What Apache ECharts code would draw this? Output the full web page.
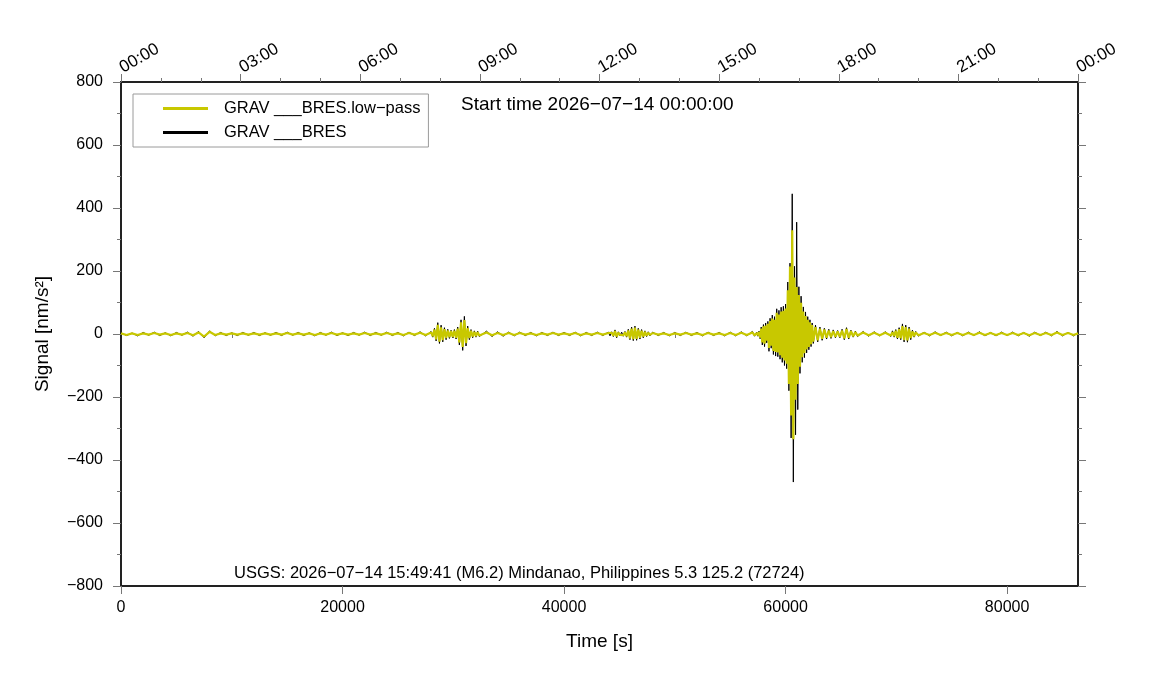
<!DOCTYPE html>
<html>
<head>
<meta charset="utf-8">
<script src="https://cdn.jsdelivr.net/npm/echarts@6/dist/echarts.min.js"></script>
<style>
html,body{margin:0;padding:0;background:#fff;}
#chart{width:1151px;height:700px;}
</style>
</head>
<body>
<div id="chart"></div>
<script>
// ---- tick labels / axis values ----
const bottomTickValues = [0, 20000, 40000, 60000, 80000];
const bottomMinorTickValues = [10000, 30000, 50000, 70000];
const topTickLabels = ['00:00','03:00','06:00','09:00','12:00','15:00','18:00','21:00','00:00'];
const seriesNames = ['GRAV ___BRES.low\u2212pass', 'GRAV ___BRES'];
const startTimeText = 'Start time 2026\u221207\u221214 00:00:00';
const eventText = 'USGS: 2026\u221207\u221214 15:49:41 (M6.2) Mindanao, Philippines 5.3 125.2 (72724)';

// ---- sample times [s] (envelope peaks) ----
const times = [
  // quiet
  0,500,1000,1500,2000,2500,3000,3500,4000,4500,5000,5500,6000,6500,7000,7500,8000,8500,9000,9500,
  10000,10500,11000,11500,12000,12500,13000,13500,14000,14500,15000,15500,16000,16500,17000,17500,
  18000,18500,19000,19500,20000,20500,21000,21500,22000,22500,23000,23500,24000,24500,25000,25500,
  26000,26500,27000,27500,
  // event ~08:00
  28000,28150,28300,28450,28600,28750,28900,29050,29200,29350,29500,29650,29800,29950,30100,30250,
  30400,30550,30700,30850,31000,31150,31300,31450,31600,31750,31900,32050,32200,32350,
  // quiet
  33000,33500,34000,34500,35000,35500,36000,36500,37000,37500,38000,38500,39000,39500,40000,40500,
  41000,41500,42000,42500,43000,43500,
  // event ~13:00
  44000,44150,44300,44450,44600,44750,44900,45050,45200,45350,45500,45650,45800,45950,46100,46250,
  46400,46550,46700,46850,47000,47150,47300,47450,47600,47750,
  // quiet
  48000,48500,49000,49500,50000,50500,51000,51500,52000,52500,53000,53500,54000,54500,55000,55500,
  56000,56500,57000,
  // main event (Mindanao M6.2)
  57200,
  57400,57500,57600,57700,57800,57900,
  58000,58100,58200,58300,58400,58500,58600,58700,58800,58900,
  59000,59100,59200,59300,59400,59500,59600,59700,59800,59900,
  60000,60100,60200,60300,60400,60500,60600,60700,60800,60900,
  61000,61100,61200,61300,61400,61500,61600,61700,61800,61900,
  62000,62100,62200,62300,62400,62500,
  62700,62900,63100,63300,63500,63700,63900,64100,64300,64500,64700,64900,65100,65300,65500,65700,
  65900,66100,66300,66500,
  // quiet
  67000,67500,68000,68500,69000,69500,
  // event ~19:40
  69650,69800,69950,70100,70250,70400,70550,70700,70850,71000,71150,71300,71450,71600,71750,
  // quiet
  72000,72500,73000,73500,74000,74500,75000,75500,76000,76500,77000,77500,78000,78500,79000,79500,
  80000,80500,81000,81500,82000,82500,83000,83500,84000,84500,85000,85500,86000,86400
];

// ---- raw signal GRAV ___BRES [nm/s^2] ----
const rawSignal = [
  4,-5,3,-6,5,-4,6,-5,4,-6,5,-4,6,-7,8,-12,10,-6,5,-5,
  4,-5,5,-4,5,-5,4,-4,5,-5,6,-4,5,-5,4,-6,
  5,-4,6,-5,4,-5,5,-4,6,-5,5,-4,6,-5,5,-6,
  6,-5,7,-6,
  8,-10,18,-22,36,-30,28,-25,20,-18,15,-14,12,-12,14,-16,
  22,-35,45,-52,56,-38,25,-18,14,-12,10,-10,9,-8,
  9,-8,7,-7,6,-6,6,-5,5,-6,5,-5,6,-5,5,-5,
  6,-6,5,-5,6,-5,
  6,-6,7,-8,13,-12,7,-6,6,-7,8,-10,15,-18,22,-21,
  25,-20,18,-16,14,-12,10,-8,7,-6,
  6,-5,5,-6,5,-5,6,-5,5,-6,6,-5,5,-6,6,-6,
  7,-6,8,
  -7,
  6,-7,9,-15,22,-35,
  30,-40,35,-28,40,-55,50,-45,60,-65,
  55,-70,80,-72,75,-80,85,-90,88,-100,
  95,-110,165,-180,225,-330,445,-470,215,-320,
  355,-240,150,-125,120,-90,86,-75,70,-60,
  55,-50,45,-40,35,-30,
  28,-25,22,-20,18,-16,15,-14,13,-12,11,-12,15,-18,20,-16,
  12,-10,9,-8,
  8,-7,7,-6,7,-8,
  10,-10,14,-16,20,-18,32,-25,28,-26,22,-18,12,-10,8,
  -7,6,-6,7,-5,6,-6,5,-6,6,-5,7,-6,5,-6,6,
  -5,6,-6,5,-7,6,-5,6,-6,8,-6,5,-6,4
];

// ---- low-pass signal GRAV ___BRES.low-pass [nm/s^2] ----
const lowPassSignal = [
  2,-3,2,-3,2,-2,3,-2,2,-3,2,-2,3,-4,5,-8,7,-3,2,-2,
  2,-2,2,-2,2,-2,2,-2,2,-2,3,-2,2,-2,2,-3,
  2,-2,3,-2,2,-2,2,-2,3,-2,2,-2,3,-2,2,-3,
  3,-2,4,-3,
  5,-7,14,-17,29,-24,21,-19,15,-13,11,-10,9,-9,10,-12,
  17,-27,37,-41,44,-29,19,-13,10,-8,7,-7,6,-5,
  5,-4,3,-3,3,-3,3,-2,2,-3,2,-2,3,-2,2,-2,
  3,-3,2,-2,3,-2,
  3,-3,4,-5,9,-8,4,-3,3,-4,5,-7,11,-14,17,-16,
  20,-15,14,-12,10,-8,7,-5,4,-3,
  3,-2,2,-3,2,-2,3,-2,2,-3,3,-2,2,-3,3,-3,
  4,-3,5,
  -4,
  3,-4,6,-11,17,-27,
  24,-31,27,-21,32,-44,41,-37,49,-54,
  45,-57,67,-59,62,-67,71,-75,74,-84,
  81,-94,139,-159,214,-259,329,-334,179,-209,
  149,-159,124,-104,99,-74,71,-61,57,-49,
  45,-41,37,-32,28,-24,
  22,-20,17,-15,14,-12,11,-10,9,-9,8,-9,11,-14,16,-12,
  9,-7,6,-5,
  5,-4,4,-4,4,-5,
  6,-7,10,-12,15,-14,25,-19,22,-20,17,-13,8,-7,5,
  -4,3,-3,4,-3,3,-3,3,-3,3,-3,4,-3,3,-3,3,
  -3,3,-3,3,-4,3,-3,3,-3,5,-3,3,-3,2
];

const FONT = '"Liberation Sans", Arial, Helvetica, sans-serif';
const pair = (vals) => times.map((t, i) => [t, vals[i]]);
const minus = (v) => String(v).replace('-', '\u2212');

const axisLineStyle = { color: '#222', width: 2 };
const tickStyle = { color: '#777', width: 1 };

const chart = echarts.init(document.getElementById('chart'), null, { renderer: 'canvas' });
chart.setOption({
  animation: false,
  backgroundColor: '#ffffff',
  textStyle: { fontFamily: FONT, color: '#000' },
  title: [
    { text: startTimeText, left: 461, top: 95, padding: 0,
      textStyle: { fontFamily: FONT, fontSize: 19, fontWeight: 'normal', color: '#000' } },
    { text: eventText, left: 234, top: 565, padding: 0,
      textStyle: { fontFamily: FONT, fontSize: 16.5, fontWeight: 'normal', color: '#000' } }
  ],
  legend: {
    orient: 'vertical', left: 133, top: 94,
    data: [seriesNames[0], seriesNames[1]],
    backgroundColor: '#fff', borderColor: '#9a9a9a', borderWidth: 1, borderRadius: 0,
    padding: [5, 8, 5, 30], itemGap: 5, itemWidth: 45, itemHeight: 3, icon: 'rect',
    selectedMode: false,
    textStyle: { fontFamily: FONT, fontSize: 16.5, color: '#000', padding: [0, 0, 0, 11], lineHeight: 19 }
  },
  grid: { left: 121, right: 73, top: 82, bottom: 114, containLabel: false },
  xAxis: [
    {
      type: 'value', position: 'bottom', min: 0, max: 86400, interval: 20000,
      name: 'Time [s]', nameLocation: 'middle', nameGap: 46,
      nameTextStyle: { fontFamily: FONT, fontSize: 19, color: '#000' },
      axisLine: { show: true, onZero: false, lineStyle: axisLineStyle },
      axisTick: { show: true, length: 8, customValues: bottomTickValues, lineStyle: tickStyle },
      axisLabel: { show: true, customValues: bottomTickValues, fontFamily: FONT, fontSize: 16, color: '#000', margin: 14,
        formatter: (v) => String(v) },
      splitLine: { show: false }
    },
    {
      type: 'value', position: 'bottom', min: 0, max: 86400, interval: 10000,
      axisLine: { show: false },
      axisTick: { show: true, length: 4, customValues: bottomMinorTickValues, lineStyle: tickStyle },
      axisLabel: { show: false },
      splitLine: { show: false }
    },
    {
      type: 'value', position: 'top', min: 0, max: 86400, interval: 10800,
      axisLine: { show: true, onZero: false, lineStyle: axisLineStyle },
      axisTick: { show: true, length: 8, lineStyle: tickStyle },
      minorTick: { show: true, splitNumber: 3, length: 4, lineStyle: tickStyle },
      axisLabel: {
        show: true, rotate: -30, margin: 13, fontFamily: FONT, fontSize: 17, color: '#000',
        formatter: (v) => topTickLabels[Math.round(v / 10800)] || ''
      },
      splitLine: { show: false }
    }
  ],
  yAxis: [
    {
      type: 'value', position: 'left', min: -800, max: 800, interval: 200,
      name: 'Signal [nm/s\u00b2]', nameLocation: 'middle', nameGap: 69,
      nameTextStyle: { fontFamily: FONT, fontSize: 19, color: '#000' },
      axisLine: { show: true, onZero: false, lineStyle: axisLineStyle },
      axisTick: { show: true, length: 8, lineStyle: tickStyle },
      minorTick: { show: true, splitNumber: 2, length: 4, lineStyle: tickStyle },
      axisLabel: { show: true, fontFamily: FONT, fontSize: 16, color: '#000', margin: 18, formatter: minus },
      splitLine: { show: false }
    },
    {
      type: 'value', position: 'right', min: -800, max: 800, interval: 200,
      axisLine: { show: true, onZero: false, lineStyle: axisLineStyle },
      axisTick: { show: true, length: 8, lineStyle: tickStyle },
      minorTick: { show: true, splitNumber: 2, length: 4, lineStyle: tickStyle },
      axisLabel: { show: false },
      splitLine: { show: false }
    }
  ],
  series: [
    {
      name: seriesNames[1], type: 'line', xAxisIndex: 0, yAxisIndex: 0,
      data: pair(rawSignal), showSymbol: false, symbol: 'none', sampling: null,
      lineStyle: { color: '#000', width: 1 }, itemStyle: { color: '#000' }, z: 2
    },
    {
      name: seriesNames[0], type: 'line', xAxisIndex: 0, yAxisIndex: 0,
      data: pair(lowPassSignal), showSymbol: false, symbol: 'none', sampling: null,
      lineStyle: { color: '#c8c800', width: 2.2 }, itemStyle: { color: '#c8c800' }, z: 3
    }
  ]
});
</script>
</body>
</html>
